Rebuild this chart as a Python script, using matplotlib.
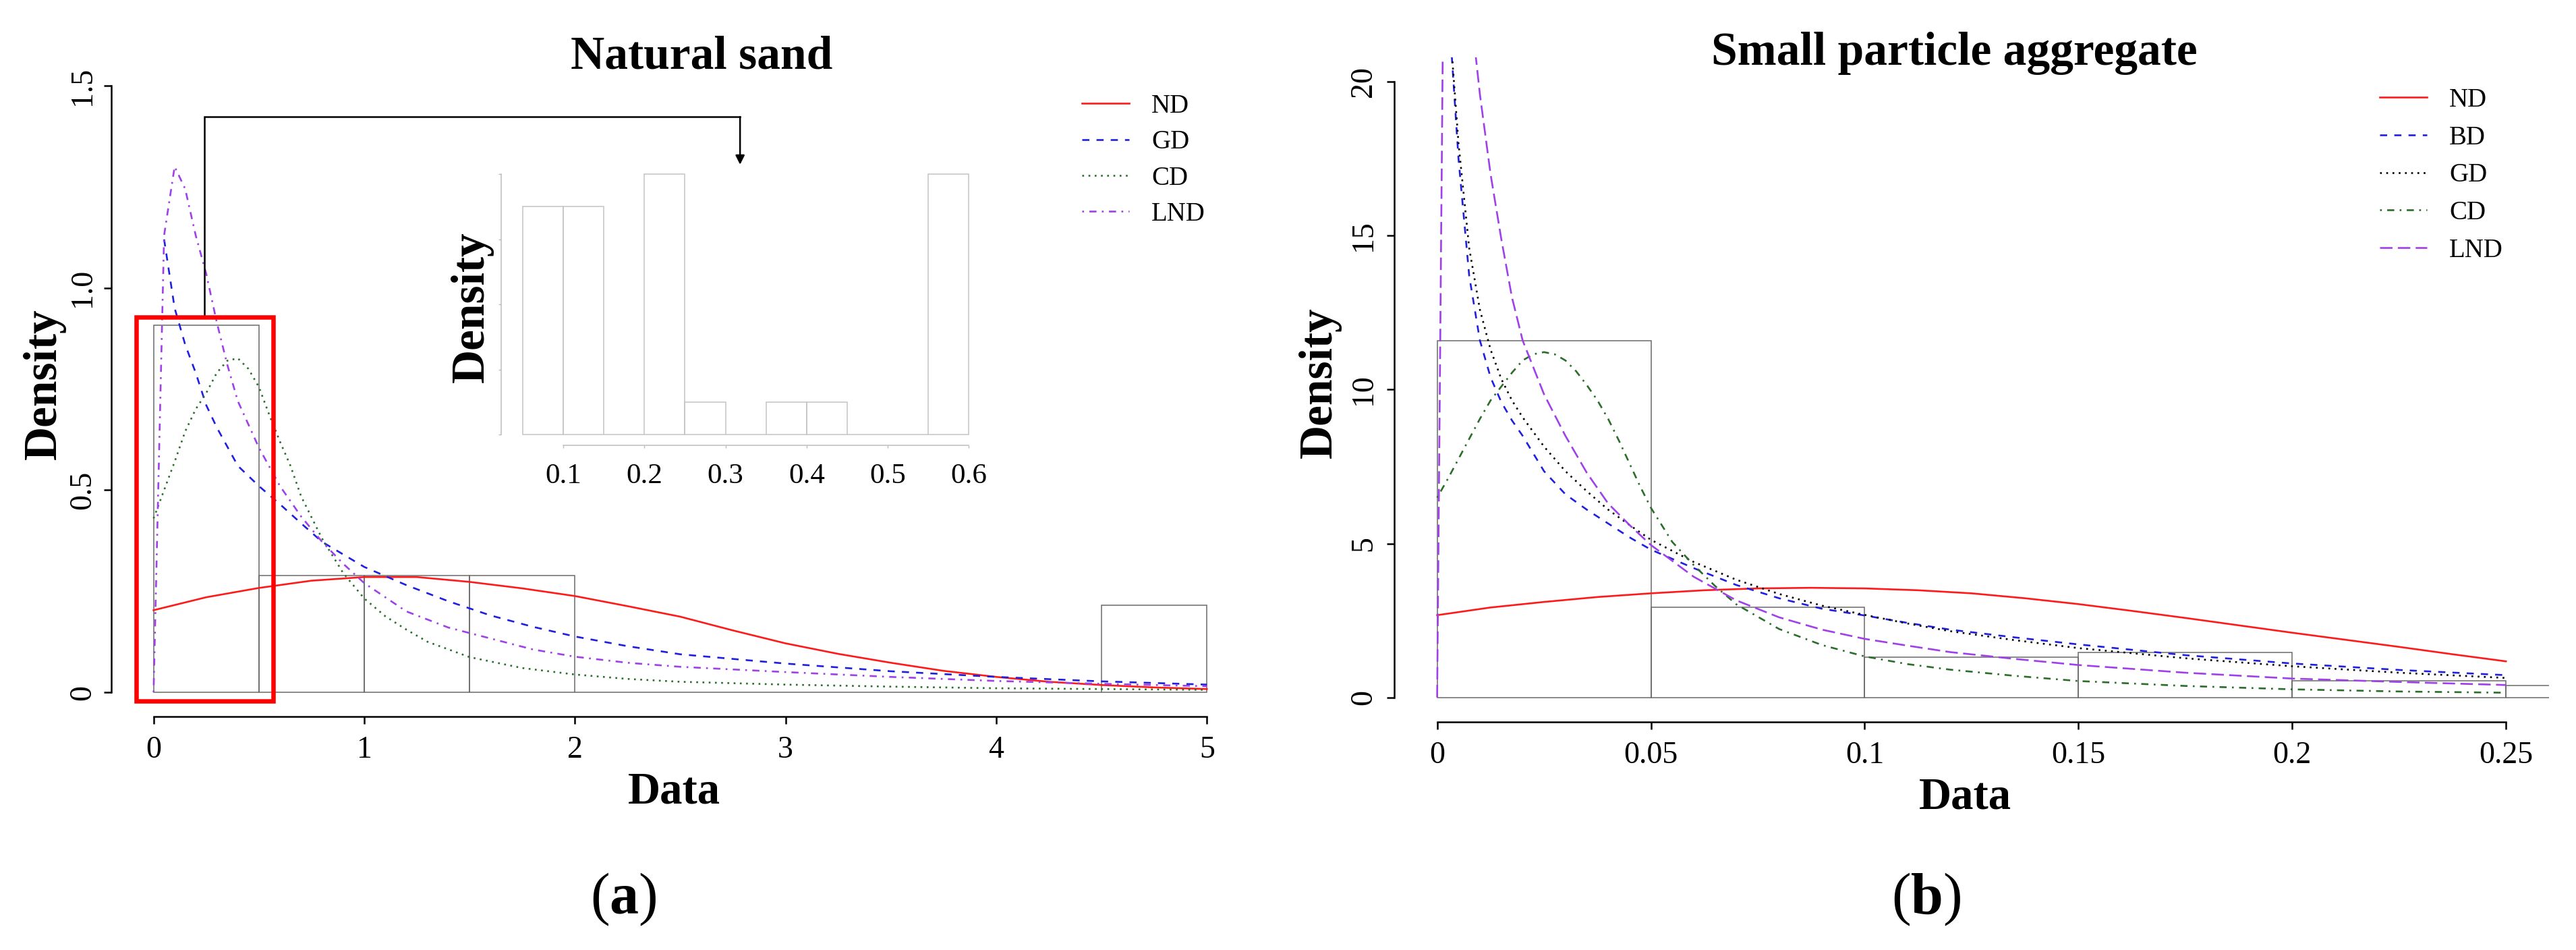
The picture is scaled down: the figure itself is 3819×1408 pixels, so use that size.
import matplotlib
matplotlib.use("Agg")
import matplotlib.pyplot as plt
from matplotlib.patches import Rectangle
import numpy as np

plt.rcParams['font.family'] = ['Liberation Serif', 'DejaVu Serif']
plt.rcParams['mathtext.fontset'] = 'custom'
plt.rcParams['mathtext.rm'] = 'Liberation Serif'
plt.rcParams['mathtext.bf'] = 'Liberation Serif:bold'

W, H = 3819, 1408

# ---------------- (a) natural sand ----------------
sand_bins = [0, 0.5, 1.0, 1.5, 2.0, 2.5, 3.0, 3.5, 4.0, 4.5, 5.0]
sand_hist = [0.907, 0.289, 0.289, 0.289, 0, 0, 0, 0, 0, 0.215]

sand_nd_x = [0, 0.25, 0.5, 0.75, 1.0, 1.25, 1.5, 1.75, 2.0, 2.25, 2.5,
             2.75, 3.0, 3.25, 3.5, 3.75, 4.0, 4.25, 4.5, 4.75, 5.0]
sand_nd_y = [0.203, 0.235, 0.258, 0.276, 0.285, 0.285, 0.273, 0.257, 0.238, 0.213, 0.187,
             0.153, 0.121, 0.095, 0.073, 0.053, 0.038, 0.026, 0.018, 0.012, 0.008]

sand_gd_x = [0.05, 0.1, 0.15, 0.2, 0.25, 0.3, 0.4, 0.5, 0.6, 0.7, 0.8, 1.0, 1.2,
             1.4, 1.6, 1.8, 2.0, 2.25, 2.5, 3.0, 3.5, 4.0, 4.5, 5.0]
sand_gd_y = [1.12, 0.95, 0.86, 0.79, 0.71, 0.655, 0.56, 0.51, 0.465, 0.418, 0.372, 0.31, 0.265,
             0.225, 0.19, 0.162, 0.138, 0.114, 0.094, 0.071, 0.052, 0.038, 0.027, 0.019]

sand_cd_x = [0, 0.05, 0.1, 0.15, 0.2, 0.25, 0.3, 0.35, 0.4, 0.45, 0.5, 0.55, 0.6, 0.65,
             0.7, 0.8, 0.9, 1.0, 1.1, 1.2, 1.3, 1.5, 1.75, 2.0, 2.25, 2.5, 3.0, 3.5,
             4.0, 4.5, 5.0]
sand_cd_y = [0.43, 0.50, 0.57, 0.645, 0.70, 0.74, 0.79, 0.82, 0.826, 0.80, 0.755, 0.685, 0.62, 0.56,
             0.485, 0.38, 0.295, 0.232, 0.188, 0.155, 0.125, 0.087, 0.060, 0.044, 0.033, 0.026, 0.019, 0.014,
             0.010, 0.008, 0.006]

sand_lnd_x = [0, 0.05, 0.1, 0.15, 0.2, 0.25, 0.3, 0.35, 0.4, 0.5, 0.6, 0.7, 0.8, 0.9,
              1.0, 1.2, 1.4, 1.6, 1.8, 2.0, 2.25, 2.5, 3.0, 3.5, 4.0, 4.5, 5.0]
sand_lnd_y = [0, 1.13, 1.30, 1.245, 1.13, 1.035, 0.915, 0.81, 0.72, 0.605, 0.51, 0.435, 0.372, 0.318,
              0.27, 0.20, 0.16, 0.133, 0.106, 0.088, 0.073, 0.063, 0.05, 0.038, 0.028, 0.021, 0.015]

# inset: counts of the small values
inset_bins = [0.05, 0.1, 0.15, 0.2, 0.25, 0.3, 0.35, 0.4, 0.45, 0.5, 0.55, 0.6]
inset_counts = [7, 7, 0, 8, 1, 0, 1, 1, 0, 0, 8]

# ---------------- (b) small particle aggregate ----------------
agg_bins = [0, 0.05, 0.1, 0.15, 0.2, 0.25, 0.3]
agg_hist = [11.6, 2.92, 1.31, 1.45, 0.54, 0.38]

agg_nd_x = [0, 0.0125, 0.025, 0.0375, 0.05, 0.0625, 0.075, 0.0875, 0.1, 0.1125, 0.125,
            0.1375, 0.15, 0.1625, 0.175, 0.1875, 0.2, 0.2125, 0.225, 0.2375, 0.25]
agg_nd_y = [2.67, 2.92, 3.10, 3.26, 3.38, 3.48, 3.54, 3.56, 3.54, 3.48, 3.38,
            3.22, 3.03, 2.81, 2.58, 2.34, 2.10, 1.87, 1.64, 1.40, 1.17]

agg_bd_x = [0.0025, 0.005, 0.0075, 0.01, 0.0125, 0.015, 0.0175, 0.02, 0.025, 0.03, 0.035,
            0.04, 0.045, 0.05, 0.06, 0.07, 0.08, 0.09, 0.1, 0.11, 0.12, 0.135, 0.15,
            0.175, 0.2, 0.225, 0.25]
agg_bd_y = [22.8, 17.5, 13.7, 11.6, 10.4, 9.6, 9.0, 8.5, 7.35, 6.6, 6.1,
            5.65, 5.2, 4.8, 4.2, 3.65, 3.22, 2.88, 2.66, 2.42, 2.2, 1.95, 1.72,
            1.37, 1.10, 0.89, 0.72]

agg_gd_x = [0.0025, 0.005, 0.0075, 0.01, 0.0125, 0.015, 0.0175, 0.02, 0.025, 0.03, 0.035,
            0.04, 0.045, 0.05, 0.06, 0.07, 0.08, 0.09, 0.1, 0.11, 0.12, 0.135, 0.15,
            0.175, 0.2, 0.225, 0.25]
agg_gd_y = [22.7, 18.0, 14.6, 12.6, 11.3, 10.35, 9.65, 9.1, 8.15, 7.35, 6.7,
            6.1, 5.6, 5.12, 4.4, 3.82, 3.36, 2.98, 2.68, 2.4, 2.15, 1.86, 1.6,
            1.27, 1.01, 0.8, 0.63]

agg_cd_x = [0, 0.0025, 0.005, 0.0075, 0.01, 0.0125, 0.015, 0.0175, 0.02, 0.0225, 0.025,
            0.0275, 0.03, 0.0325, 0.035, 0.0375, 0.04, 0.0425, 0.045, 0.0475, 0.05,
            0.055, 0.06, 0.065, 0.07, 0.08, 0.09, 0.1, 0.11, 0.12, 0.135, 0.15,
            0.175, 0.2, 0.225, 0.25]
agg_cd_y = [6.49, 7.1, 7.75, 8.4, 9.05, 9.65, 10.1, 10.55, 10.95, 11.15, 11.22,
            11.15, 10.95, 10.6, 10.15, 9.65, 9.05, 8.35, 7.6, 6.85, 6.16,
            5.05, 4.3, 3.62, 3.02, 2.22, 1.7, 1.33, 1.08, 0.9, 0.7, 0.53,
            0.37, 0.26, 0.19, 0.15]

agg_lnd_x = [0, 0.0025, 0.005, 0.0075, 0.01, 0.0125, 0.015, 0.0175, 0.02, 0.025, 0.03,
             0.035, 0.04, 0.045, 0.05, 0.06, 0.07, 0.08, 0.09, 0.1, 0.11, 0.12, 0.135,
             0.15, 0.175, 0.2, 0.225, 0.25]
agg_lnd_y = [0, 40, 32, 22.8, 19.6, 17.0, 14.9, 13.0, 11.6, 9.85, 8.5,
             7.3, 6.3, 5.6, 4.95, 3.92, 3.15, 2.6, 2.2, 1.9, 1.68, 1.47, 1.25,
             1.05, 0.80, 0.61, 0.50, 0.40]

sand_xticks = [0, 1, 2, 3, 4, 5]
sand_yticks = [0, 0.5, 1.0, 1.5]
sand_ylabels = ['0', '0.5', '1.0', '1.5']
agg_xticks = [0, 0.05, 0.1, 0.15, 0.2, 0.25]
agg_xlabels = ['0', '0.05', '0.1', '0.15', '0.2', '0.25']
agg_yticks = [0, 5, 10, 15, 20]
inset_xticks = [0.1, 0.2, 0.3, 0.4, 0.5, 0.6]
inset_yticks = [0, 2, 4, 6, 8]


def fx(x):
    return x / W


def fy(y):
    return 1 - y / H


LW = 1.9
HIST_EC = '#6a6a6a'


def r_axes(ax, xt, xl, yt, yl, ypad):
    for s in ['top', 'right']:
        ax.spines[s].set_visible(False)
    for s in ['left', 'bottom']:
        ax.spines[s].set_linewidth(1.8)
    ax.spines['left'].set_bounds(yt[0], yt[-1])
    ax.spines['bottom'].set_bounds(xt[0], xt[-1])
    ax.set_xticks(xt)
    ax.set_xticklabels(xl)
    ax.set_yticks(yt)
    ax.set_yticklabels(yl, rotation=90, va='center')
    ax.tick_params(length=7.6, width=1.8, labelsize=33)
    ax.tick_params(axis='x', pad=13)
    ax.tick_params(axis='y', pad=ypad)


fig = plt.figure(figsize=(W / 100, H / 100), dpi=100)

# ---- panel (a) ----
ax1 = fig.add_axes([0.04326, 0.24574, 0.44161, 0.68956])
ax1.set_xlim(-0.2, 5.2)
ax1.set_ylim(-0.06, 1.56)
ax1.bar(sand_bins[:-1], sand_hist, width=np.diff(sand_bins), align='edge',
        fill=False, edgecolor=HIST_EC, linewidth=1.1)
l_nd, = ax1.plot(sand_nd_x, sand_nd_y, color='#ff1a1a', lw=LW, label='ND')
l_gd, = ax1.plot(sand_gd_x, sand_gd_y, color='#1f1fe0', lw=LW, dashes=(4, 4), label='GD')
l_cd, = ax1.plot(sand_cd_x, sand_cd_y, color='#2a6e2a', lw=LW, dashes=(1, 2.5), label='CD')
l_lnd, = ax1.plot(sand_lnd_x, sand_lnd_y, color='#a040e8', lw=LW, dashes=(1, 3, 4, 3), label='LND')
r_axes(ax1, sand_xticks, [str(t) for t in sand_xticks], sand_yticks, sand_ylabels, 7.5)

# red highlight box and bracket arrow to the inset
ax1.add_patch(Rectangle((-0.081, -0.022), 0.648, 0.95, fill=False, edgecolor='#ff0000',
                        linewidth=4.7, clip_on=False, zorder=5))
ax1.plot([0.242, 0.242, 2.784], [0.928, 1.423, 1.423], color='black', lw=1.8,
         clip_on=False, solid_joinstyle='miter')
ax1.annotate('', xy=(2.784, 1.305), xytext=(2.784, 1.423), annotation_clip=False,
             arrowprops=dict(arrowstyle='-|>', color='black', lw=1.8, mutation_scale=20,
                             shrinkA=0, shrinkB=0))

ax1.legend(handles=[l_nd, l_gd, l_cd, l_lnd], loc='upper left', frameon=False,
           fontsize=28, handlelength=1.8, handletextpad=0.85, labelspacing=0.42,
           borderpad=0, borderaxespad=0,
           bbox_to_anchor=(fx(1604), fy(139)), bbox_transform=fig.transFigure)

# inset
axi = fig.add_axes([0.1946, 0.5316, 0.1898, 0.2961])
axi.set_xlim(0.0237, 0.6263)
axi.set_ylim(-0.32, 8.32)
axi.bar(inset_bins[:-1], inset_counts, width=np.diff(inset_bins), align='edge',
        fill=False, edgecolor='#c4c4c4', linewidth=1.1)
for s in ['top', 'right']:
    axi.spines[s].set_visible(False)
for s in ['left', 'bottom']:
    axi.spines[s].set_color('#bdbdbd')
    axi.spines[s].set_linewidth(1.1)
axi.spines['left'].set_bounds(0, 8)
axi.spines['bottom'].set_bounds(0.1, 0.6)
axi.set_xticks(inset_xticks)
axi.set_xticklabels([str(t) for t in inset_xticks])
axi.set_yticks(inset_yticks)
axi.set_yticklabels([])
axi.tick_params(length=3.2, width=1.0, color='#bdbdbd', labelsize=31)
axi.tick_params(axis='x', pad=16.5)
axi.patch.set_alpha(0)

# ---- panel (b) ----
ax2 = fig.add_axes([0.54130, 0.24006, 0.44810, 0.69957])
ax2.set_xlim(-0.01, 0.26)
ax2.set_ylim(-0.8, 20.8)
ax2.bar(agg_bins[:-1], agg_hist, width=np.diff(agg_bins), align='edge',
        fill=False, edgecolor=HIST_EC, linewidth=1.1)
m_nd, = ax2.plot(agg_nd_x, agg_nd_y, color='#ff1a1a', lw=LW, label='ND')
m_bd, = ax2.plot(agg_bd_x, agg_bd_y, color='#1f1fe0', lw=LW, dashes=(4, 4), label='BD')
m_gd, = ax2.plot(agg_gd_x, agg_gd_y, color='black', lw=LW, dashes=(1, 2.5), label='GD')
m_cd, = ax2.plot(agg_cd_x, agg_cd_y, color='#2a6e2a', lw=LW, dashes=(1, 3, 4, 3), label='CD')
m_lnd, = ax2.plot(agg_lnd_x, agg_lnd_y, color='#a040e8', lw=LW, dashes=(7, 3), label='LND')
r_axes(ax2, agg_xticks, agg_xlabels, agg_yticks, [str(t) for t in agg_yticks], 10)

ax2.legend(handles=[m_nd, m_bd, m_gd, m_cd, m_lnd], loc='upper left', frameon=False,
           fontsize=28, handlelength=1.8, handletextpad=0.85, labelspacing=0.48,
           borderpad=0, borderaxespad=0,
           bbox_to_anchor=(fx(3528), fy(130)), bbox_transform=fig.transFigure)

# ---- text ----
bold = dict(fontweight='bold', ha='center', va='center')
fig.text(fx(1040), fy(85), 'Natural sand', fontsize=50, **bold)
fig.text(fx(2897), fy(79), 'Small particle aggregate', fontsize=50, **bold)
fig.text(fx(999), fy(1174), 'Data', fontsize=48, **bold)
fig.text(fx(2913), fy(1182), 'Data', fontsize=48, **bold)
fig.text(fx(66), fy(569), 'Density', fontsize=50, rotation=90, **bold)
fig.text(fx(700), fy(455), 'Density', fontsize=50, rotation=90, **bold)
fig.text(fx(1957), fy(567), 'Density', fontsize=50, rotation=90, **bold)

fig.text(fx(924), fy(1333), r'($\mathbf{a}$)', fontsize=62, ha='center', va='center')
fig.text(fx(2856), fy(1333), r'($\mathbf{b}$)', fontsize=62, ha='center', va='center')

fig.savefig('out.png', dpi=100)
